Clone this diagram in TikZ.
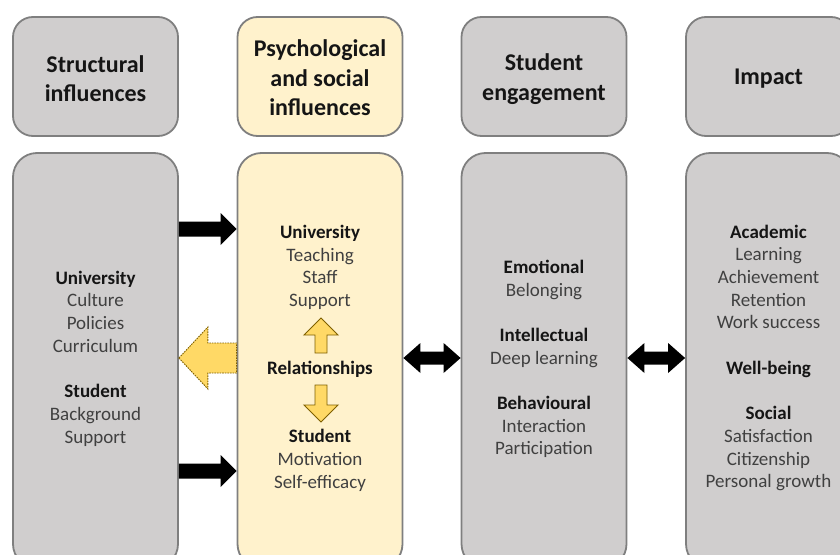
\documentclass[tikz,border=0pt]{standalone}
\usepackage{fontspec}
\setmainfont{Carlito}
\usetikzlibrary{calc}
\definecolor{boxgray}{HTML}{D0CECE}
\definecolor{boxyellow}{HTML}{FFF2CC}
\definecolor{edgegray}{HTML}{7F7F7F}
\definecolor{arrowgold}{HTML}{FFD966}
\definecolor{arrowedge}{HTML}{7F6000}
\definecolor{itemgray}{HTML}{404040}
\definecolor{headblack}{HTML}{151515}
\newcommand\colhead[1]{\textcolor{headblack}{\textbf{#1}}}
\begin{document}
\begin{tikzpicture}[x=1pt,y=-1pt,
  panel/.style={draw=edgegray, line width=1.8pt, rounded corners=20pt, minimum width=165pt, inner sep=0pt},
  graypanel/.style={panel, fill=boxgray},
  yellowpanel/.style={panel, fill=boxyellow},
  titlebox/.style={minimum height=119pt},
  titletext/.style={font=\fontsize{24}{29.5}\selectfont\bfseries, align=center, text=headblack, inner sep=0pt},
  bodybox/.style={minimum height=415pt, rounded corners=24pt},
  bodytext/.style={font=\fontsize{19}{22.7}\selectfont, align=center, text=itemgray, inner sep=0pt},
  blackarrow/.style={fill=black},
  goldarrow/.style={fill=arrowgold, draw=arrowedge, line width=0.9pt, line join=miter},
  goldbig/.style={goldarrow, dash pattern=on 1.6pt off 1pt}
]
\useasboundingbox (0,0) rectangle (840,554);
\clip (0,0) rectangle (840,554);

% title panels
\node[graypanel,titlebox] (t1) at (95.5,76.5) {};
\node[yellowpanel,titlebox] (t2) at (320,76.5) {};
\node[graypanel,titlebox] (t3) at (544,76.5) {};
\node[graypanel,titlebox] (t4) at (768.5,76.5) {};
\node[titletext] (tt1) at ($(t1.center)+(0,2)$) {Structural\\influences};
\node[titletext] (tt2) at ($(t2.center)+(0,1.5)$) {Psychological\\and social\\influences};
\node[titletext] (tt3) at ($(t3.center)+(0,2.5)$) {Student\\engagement};
\node[titletext] (tt4) at ($(t4.center)+(0,2.5)$) {Impact};

% body panels
\node[graypanel,bodybox] (b1) at (95.5,360.5) {};
\node[yellowpanel,bodybox] (b2) at (320,360.5) {};
\node[graypanel,bodybox] (b3) at (544,360.5) {};
\node[graypanel,bodybox] (b4) at (768.5,360.5) {};

% body texts
\node[bodytext] (s1) at (95.5,358.5) {\colhead{University}\\Culture\\Policies\\Curriculum\\[22.7pt]\colhead{Student}\\Background\\Support};
\node[bodytext] (psyU) at (320,267.5) {\colhead{University}\\Teaching\\Staff\\Support};
\node[bodytext] (rel) at (320,369.5) {\colhead{Relationships}};
\node[bodytext] (psyS) at (320,460.5) {\colhead{Student}\\Motivation\\Self-efficacy};
\node[bodytext] (s3) at (544,359) {\colhead{Emotional}\\Belonging\\[22.7pt]\colhead{Intellectual}\\Deep learning\\[22.7pt]\colhead{Behavioural}\\Interaction\\Participation};
\node[bodytext] (s4) at (768.5,358) {\colhead{Academic}\\Learning\\Achievement\\Retention\\Work success\\[22.7pt]\colhead{Well-being}\\[22.7pt]\colhead{Social}\\Satisfaction\\Citizenship\\Personal growth};

% black arrows from structural to psychological
\coordinate (a1s) at ($(b1.east)+(0,-131.5)$);
\coordinate (a1e) at ($(b2.west)+(0,-131.5)$);
\fill[blackarrow] ($(a1s)+(0,-7.5)$) -- ($(a1e)+(-16,-7.5)$) -- ($(a1e)+(-16,-16)$) -- (a1e)
  -- ($(a1e)+(-16,16)$) -- ($(a1e)+(-16,7.5)$) -- ($(a1s)+(0,7.5)$) -- cycle;
\coordinate (a2s) at ($(b1.east)+(0,110.5)$);
\coordinate (a2e) at ($(b2.west)+(0,110.5)$);
\fill[blackarrow] ($(a2s)+(0,-7.5)$) -- ($(a2e)+(-16,-7.5)$) -- ($(a2e)+(-16,-16)$) -- (a2e)
  -- ($(a2e)+(-16,16)$) -- ($(a2e)+(-16,7.5)$) -- ($(a2s)+(0,7.5)$) -- cycle;

% gold arrow back to structural
\coordinate (ytip) at ($(b1.east)+(0,-2.5)$);
\coordinate (yend) at ($(b2.west)+(0,-2.5)$);
\draw[goldbig] (ytip) -- ($(ytip)+(29,-31)$) -- ($(ytip)+(29,-15)$) -- ($(yend)+(0,-15)$)
  -- ($(yend)+(0,15)$) -- ($(ytip)+(29,15)$) -- ($(ytip)+(29,31)$) -- cycle;

% double arrows
\coordinate (d1l) at ($(b2.east)+(0,-2.5)$);
\coordinate (d1r) at ($(b3.west)+(0,-2.5)$);
\fill[blackarrow] (d1l) -- ($(d1l)+(17,-15)$) -- ($(d1l)+(17,-6.5)$) -- ($(d1r)+(-17,-6.5)$)
  -- ($(d1r)+(-17,-15)$) -- (d1r) -- ($(d1r)+(-17,15)$) -- ($(d1r)+(-17,6.5)$)
  -- ($(d1l)+(17,6.5)$) -- ($(d1l)+(17,15)$) -- cycle;
\coordinate (d2l) at ($(b3.east)+(0,-2.5)$);
\coordinate (d2r) at ($(b4.west)+(0,-2.5)$);
\fill[blackarrow] (d2l) -- ($(d2l)+(17,-15)$) -- ($(d2l)+(17,-6.5)$) -- ($(d2r)+(-17,-6.5)$)
  -- ($(d2r)+(-17,-15)$) -- (d2r) -- ($(d2r)+(-17,15)$) -- ($(d2r)+(-17,6.5)$)
  -- ($(d2l)+(17,6.5)$) -- ($(d2l)+(17,15)$) -- cycle;

% small gold arrows around Relationships
\coordinate (utail) at ($(rel.center)+(1,-16.5)$);
\coordinate (utip) at ($(rel.center)+(1,-51.5)$);
\draw[goldarrow] (utip) -- ($(utip)+(17,17)$) -- ($(utip)+(6,17)$) -- ($(utail)+(6,0)$)
  -- ($(utail)+(-6,0)$) -- ($(utip)+(-6,17)$) -- ($(utip)+(-17,17)$) -- cycle;
\coordinate (dtail) at ($(rel.center)+(1,15.5)$);
\coordinate (dtip) at ($(rel.center)+(1,52.5)$);
\draw[goldarrow] (dtip) -- ($(dtip)+(17,-17)$) -- ($(dtip)+(6,-17)$) -- ($(dtail)+(6,0)$)
  -- ($(dtail)+(-6,0)$) -- ($(dtip)+(-6,-17)$) -- ($(dtip)+(-17,-17)$) -- cycle;
\end{tikzpicture}
\end{document}
